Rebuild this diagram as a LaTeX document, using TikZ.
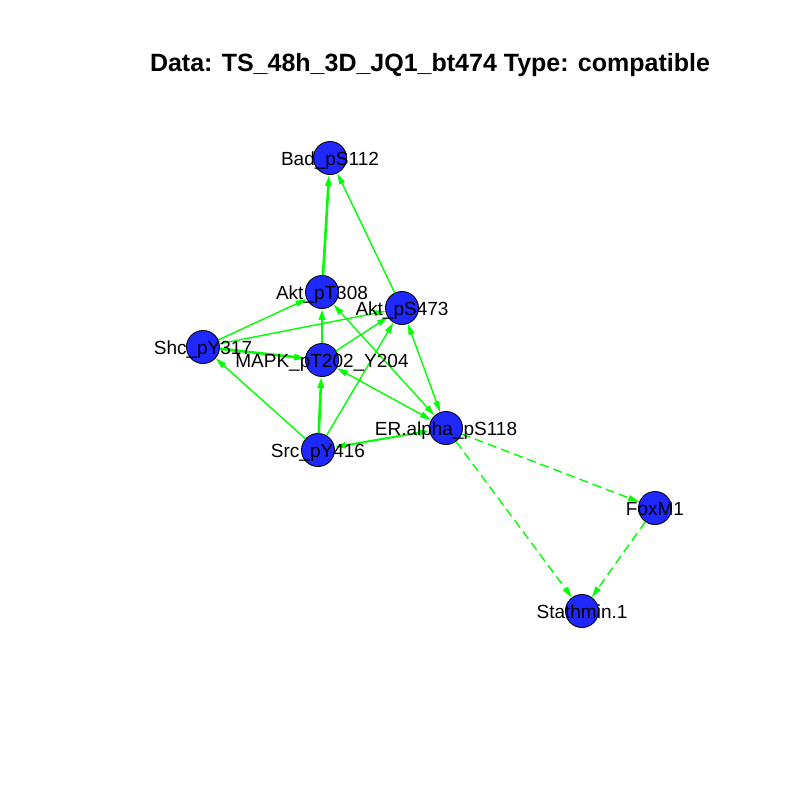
\documentclass[tikz,border=0pt]{standalone}
\usepackage{fontspec}
\setmainfont{Liberation Sans}
\usetikzlibrary{arrows.meta}
\definecolor{nodeblue}{RGB}{31,41,255}
\definecolor{edgegreen}{RGB}{0,255,0}
\begin{document}
\begin{tikzpicture}[x=1pt,y=-1pt,
  vertex/.style={circle,draw=black,line width=0.9pt,fill=nodeblue,minimum size=33pt,inner sep=0pt},
  vlabel/.style={anchor=base,inner sep=0pt,font=\fontsize{19}{21}\selectfont},
  tip/.style={-{Triangle[length=11pt,width=6pt]}},
  bitip/.style={{Triangle[length=11pt,width=6pt]}-{Triangle[length=11pt,width=6pt]}},
  edge/.style={draw=edgegreen,line width=1.4pt,tip},
  heavy/.style={edge,line width=2.6pt},
  twoway/.style={draw=edgegreen,line width=1.4pt,bitip},
  weak/.style={edge,dash pattern=on 9pt off 5pt}]
\useasboundingbox[fill=white] (0,0) rectangle (800,800);

% title
\node[anchor=base,inner sep=0pt,font=\fontsize{25}{28}\selectfont\bfseries] (title) at (430,71)
  {Data: TS\_48h\_3D\_JQ1\_bt474 Type: compatible};

% vertices
\node[vertex] (bad)  at (330,158) {};
\node[vertex] (aktt) at (322,292) {};
\node[vertex] (akts) at (402,308) {};
\node[vertex] (shc)  at (203,347) {};
\node[vertex] (mapk) at (322,360) {};
\node[vertex] (src)  at (318,450) {};
\node[vertex] (er)   at (446,428) {};
\node[vertex] (foxm) at (655,508) {};
\node[vertex] (stat) at (582,611) {};

% edges
\draw[heavy]  (aktt) -- (bad);
\draw[edge]   (akts) -- (bad);
\draw[edge]   (shc)  -- (aktt);
\draw[edge]   (shc)  -- (akts);
\draw[heavy]  (shc)  -- (mapk);
\draw[edge]   (src)  -- (shc);
\draw[heavy]  (src)  -- (mapk);
\draw[edge]   (src)  -- (akts);
\draw[heavy]  (mapk) -- (aktt);
\draw[edge]   (mapk) -- (akts);
\draw[twoway] (mapk) -- (er);
\draw[twoway] (aktt) -- (er);
\draw[twoway] (akts) -- (er);
\draw[twoway,line width=2pt] (src) -- (er);
\draw[weak]   (er)   -- (foxm);
\draw[weak]   (er)   -- (stat);
\draw[weak]   (foxm) -- (stat);

% vertex labels
\node[vlabel] (bad-l)  at ([yshift=-7pt]bad.center)  {Bad\_pS112};
\node[vlabel] (aktt-l) at ([yshift=-7pt]aktt.center) {Akt\_pT308};
\node[vlabel] (akts-l) at ([yshift=-7pt]akts.center) {Akt\_pS473};
\node[vlabel] (shc-l)  at ([yshift=-7pt]shc.center)  {Shc\_pY317};
\node[vlabel] (mapk-l) at ([yshift=-7pt]mapk.center) {MAPK\_pT202\_Y204};
\node[vlabel] (src-l)  at ([yshift=-7pt]src.center)  {Src\_pY416};
\node[vlabel] (er-l)   at ([yshift=-7pt]er.center)   {ER.alpha\_pS118};
\node[vlabel] (foxm-l) at ([yshift=-7pt]foxm.center) {FoxM1};
\node[vlabel] (stat-l) at ([yshift=-7pt]stat.center) {Stathmin.1};
\end{tikzpicture}
\end{document}
